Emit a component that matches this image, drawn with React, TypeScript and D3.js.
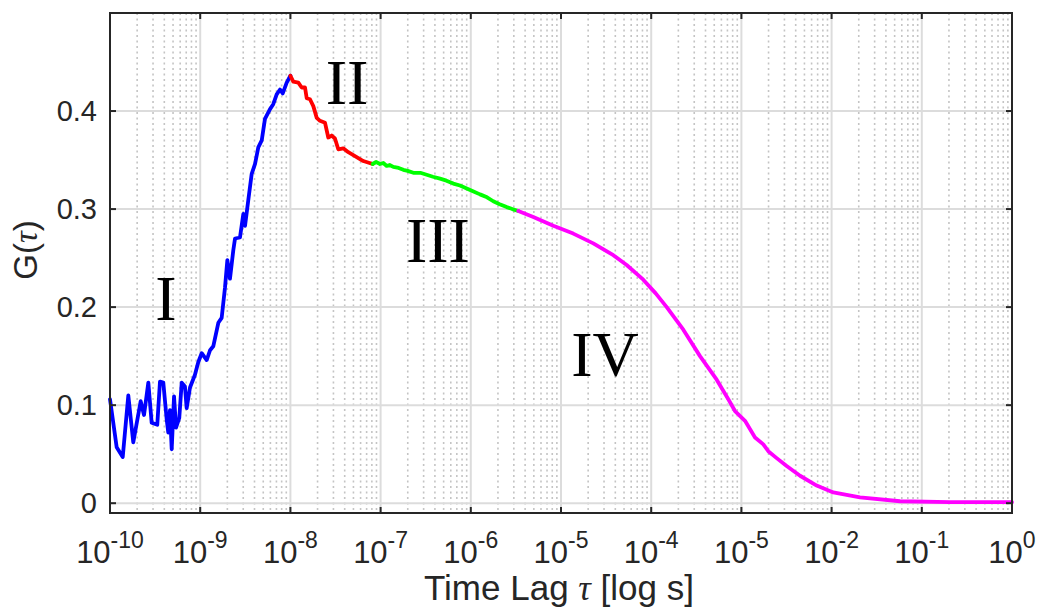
import React from "react";
import * as d3 from "d3";

// log10(tau) and G(tau) for each regime
const blueLogTau = [-10.0, -9.926, -9.859, -9.797, -9.742, -9.66, -9.623, -9.575, -9.538, -9.476, -9.446, -9.409, -9.371, -9.354, -9.335, -9.316, -9.29, -9.268, -9.232, -9.205, -9.169, -9.15, -9.113, -9.058, -9.021, -8.983, -8.928, -8.891, -8.855, -8.799, -8.762, -8.725, -8.699, -8.67, -8.633, -8.614, -8.559, -8.522, -8.503, -8.467, -8.429, -8.392, -8.356, -8.318, -8.282, -8.226, -8.19, -8.152, -8.115, -8.085, -8.041, -8.0];
const blueG = [0.106, 0.057, 0.047, 0.11, 0.062, 0.104, 0.09, 0.123, 0.082, 0.08, 0.124, 0.123, 0.085, 0.072, 0.095, 0.055, 0.109, 0.077, 0.087, 0.123, 0.119, 0.097, 0.118, 0.131, 0.144, 0.153, 0.146, 0.156, 0.16, 0.184, 0.189, 0.22, 0.248, 0.229, 0.258, 0.27, 0.271, 0.295, 0.283, 0.309, 0.336, 0.346, 0.363, 0.37, 0.392, 0.402, 0.407, 0.417, 0.422, 0.418, 0.429, 0.436];

const redLogTau = [-8.0, -7.968, -7.912, -7.875, -7.838, -7.819, -7.783, -7.746, -7.708, -7.672, -7.616, -7.58, -7.542, -7.506, -7.469, -7.414, -7.358, -7.284, -7.192, -7.088];
const redG = [0.436, 0.43, 0.429, 0.424, 0.424, 0.413, 0.412, 0.405, 0.393, 0.39, 0.388, 0.373, 0.375, 0.372, 0.361, 0.362, 0.358, 0.354, 0.349, 0.346];

const greenLogTau = [-7.088, -7.05, -7.007, -6.97, -6.932, -6.9, -6.859, -6.8, -6.748, -6.7, -6.637, -6.56, -6.489, -6.42, -6.341, -6.27, -6.194, -6.12, -6.045, -5.97, -5.898, -5.82, -5.751, -5.68, -5.602, -5.54, -5.473];
const greenG = [0.346, 0.348, 0.346, 0.347, 0.344, 0.345, 0.343, 0.342, 0.34, 0.339, 0.337, 0.337, 0.335, 0.333, 0.331, 0.329, 0.326, 0.324, 0.321, 0.318, 0.315, 0.312, 0.308, 0.305, 0.302, 0.3, 0.298];

const magentaLogTau = [-5.473, -5.307, -5.085, -4.864, -4.642, -4.42, -4.272, -4.088, -3.95, -3.828, -3.644, -3.459, -3.274, -3.145, -3.071, -2.96, -2.849, -2.757, -2.702, -2.609, -2.498, -2.35, -2.165, -1.981, -1.685, -1.242, -0.69, 0.0];
const magentaG = [0.298, 0.292, 0.283, 0.275, 0.265, 0.253, 0.243, 0.228, 0.214, 0.2, 0.177, 0.15, 0.126, 0.106, 0.094, 0.084, 0.067, 0.06, 0.053, 0.046, 0.038, 0.028, 0.018, 0.011, 0.006, 0.002, 0.001, 0.001];

const xTickExponents = [-10, -9, -8, -7, -6, -5, -4, -3, -2, -1, 0];
const xTickLabels = ["-10", "-9", "-8", "-7", "-6", "-5", "-4", "-5", "-2", "-1", "0"];
const yTicks = [0, 0.1, 0.2, 0.3, 0.4];
const yTickLabels = ["0", "0.1", "0.2", "0.3", "0.4"];

const regionLabels = ["I", "II", "III", "IV"];
const regionLogTau = [-9.379, -7.372, -6.364, -4.512];
const regionG = [0.187, 0.407, 0.246, 0.13];

const W = 1038;
const H = 610;
const M = { left: 110, right: 1012, top: 13, bottom: 513 };

export default function App() {
  const x = d3.scaleLog().domain([1e-10, 1]).range([M.left, M.right]);
  const y = d3.scaleLinear().domain([-0.01, 0.5]).range([M.bottom, M.top]);

  const mk = (lt: number[], g: number[]) =>
    d3
      .line<number>()
      .x((_, i) => x(Math.pow(10, lt[i])))
      .y((_, i) => y(g[i]))(g) as string;

  const series = [
    { lt: blueLogTau, g: blueG, c: "#0000ff" },
    { lt: redLogTau, g: redG, c: "#ff0000" },
    { lt: greenLogTau, g: greenG, c: "#00ff00" },
    { lt: magentaLogTau, g: magentaG, c: "#ff00ff" },
  ];

  const minor: number[] = [];
  for (let e = -10; e < 0; e++) {
    for (let k = 2; k <= 9; k++) minor.push(k * Math.pow(10, e));
  }

  const sans = "'Liberation Sans', Arial, Helvetica, sans-serif";
  const axisColor = "#262626";
  const tickLen = 6;

  return (
    <svg
      width={W}
      height={H}
      style={{ position: "absolute", left: 0, top: 0, background: "#fff" }}
    >
      <rect x={0} y={0} width={W} height={H} fill="#ffffff" />
      {/* minor grid */}
      {minor.map((v, i) => (
        <line
          key={"mg" + i}
          x1={x(v)}
          x2={x(v)}
          y1={M.top}
          y2={M.bottom}
          stroke="#c4c4c4"
          strokeWidth={1.6}
          strokeDasharray="2,3.5"
        />
      ))}
      {/* major grid */}
      {xTickExponents.map((e, i) => (
        <line
          key={"xg" + i}
          x1={x(Math.pow(10, e))}
          x2={x(Math.pow(10, e))}
          y1={M.top}
          y2={M.bottom}
          stroke="#dcdcdc"
          strokeWidth={2}
        />
      ))}
      {yTicks.map((t, i) => (
        <line
          key={"yg" + i}
          x1={M.left}
          x2={M.right}
          y1={y(t)}
          y2={y(t)}
          stroke="#dcdcdc"
          strokeWidth={2}
        />
      ))}
      {/* data */}
      {series.map((s, i) => (
        <path
          key={"s" + i}
          d={mk(s.lt, s.g)}
          fill="none"
          stroke={s.c}
          strokeWidth={3.8}
          strokeLinejoin="round"
          strokeLinecap="round"
        />
      ))}
      {/* region labels */}
      {regionLabels.map((l, i) => (
        <text
          key={"rl" + i}
          x={x(Math.pow(10, regionLogTau[i]))}
          y={y(regionG[i])}
          textAnchor="middle"
          fontFamily="'Liberation Serif', 'Times New Roman', serif"
          fontSize={64}
          fill="#000"
        >
          {l}
        </text>
      ))}
      {/* axes box */}
      <rect
        x={M.left}
        y={M.top}
        width={M.right - M.left}
        height={M.bottom - M.top}
        fill="none"
        stroke={axisColor}
        strokeWidth={2}
      />
      {/* ticks */}
      {xTickExponents.map((e, i) => {
        const px = x(Math.pow(10, e));
        return (
          <g key={"xt" + i}>
            <line x1={px} x2={px} y1={M.bottom} y2={M.bottom - tickLen} stroke={axisColor} strokeWidth={2} />
            <line x1={px} x2={px} y1={M.top} y2={M.top + tickLen} stroke={axisColor} strokeWidth={2} />
            <text
              x={px}
              y={563}
              textAnchor="middle"
              fontFamily={sans}
              fontSize={31}
              fill={axisColor}
            >
              <tspan>10</tspan>
              <tspan fontSize={23} dy={-15}>
                {xTickLabels[i]}
              </tspan>
            </text>
          </g>
        );
      })}
      {yTicks.map((t, i) => {
        const py = y(t);
        return (
          <g key={"yt" + i}>
            <line x1={M.left} x2={M.left + tickLen} y1={py} y2={py} stroke={axisColor} strokeWidth={2} />
            <line x1={M.right} x2={M.right - tickLen} y1={py} y2={py} stroke={axisColor} strokeWidth={2} />
            <text
              x={97}
              y={py + 10}
              textAnchor="end"
              fontFamily={sans}
              fontSize={29}
              fill={axisColor}
            >
              {yTickLabels[i]}
            </text>
          </g>
        );
      })}
      {/* axis labels */}
      <text
        x={559}
        y={600}
        textAnchor="middle"
        fontFamily={sans}
        fontSize={35}
        fill={axisColor}
      >
        Time Lag{" "}
        <tspan fontStyle="italic" fontFamily="'Liberation Serif', 'Times New Roman', serif">
          τ
        </tspan>{" "}
        [log s]
      </text>
      <text
        transform="translate(37,250) rotate(-90)"
        textAnchor="middle"
        fontFamily={sans}
        fontSize={33}
        fill={axisColor}
      >
        G(
        <tspan fontStyle="italic" fontFamily="'Liberation Serif', 'Times New Roman', serif">
          τ
        </tspan>
        )
      </text>
    </svg>
  );
}
